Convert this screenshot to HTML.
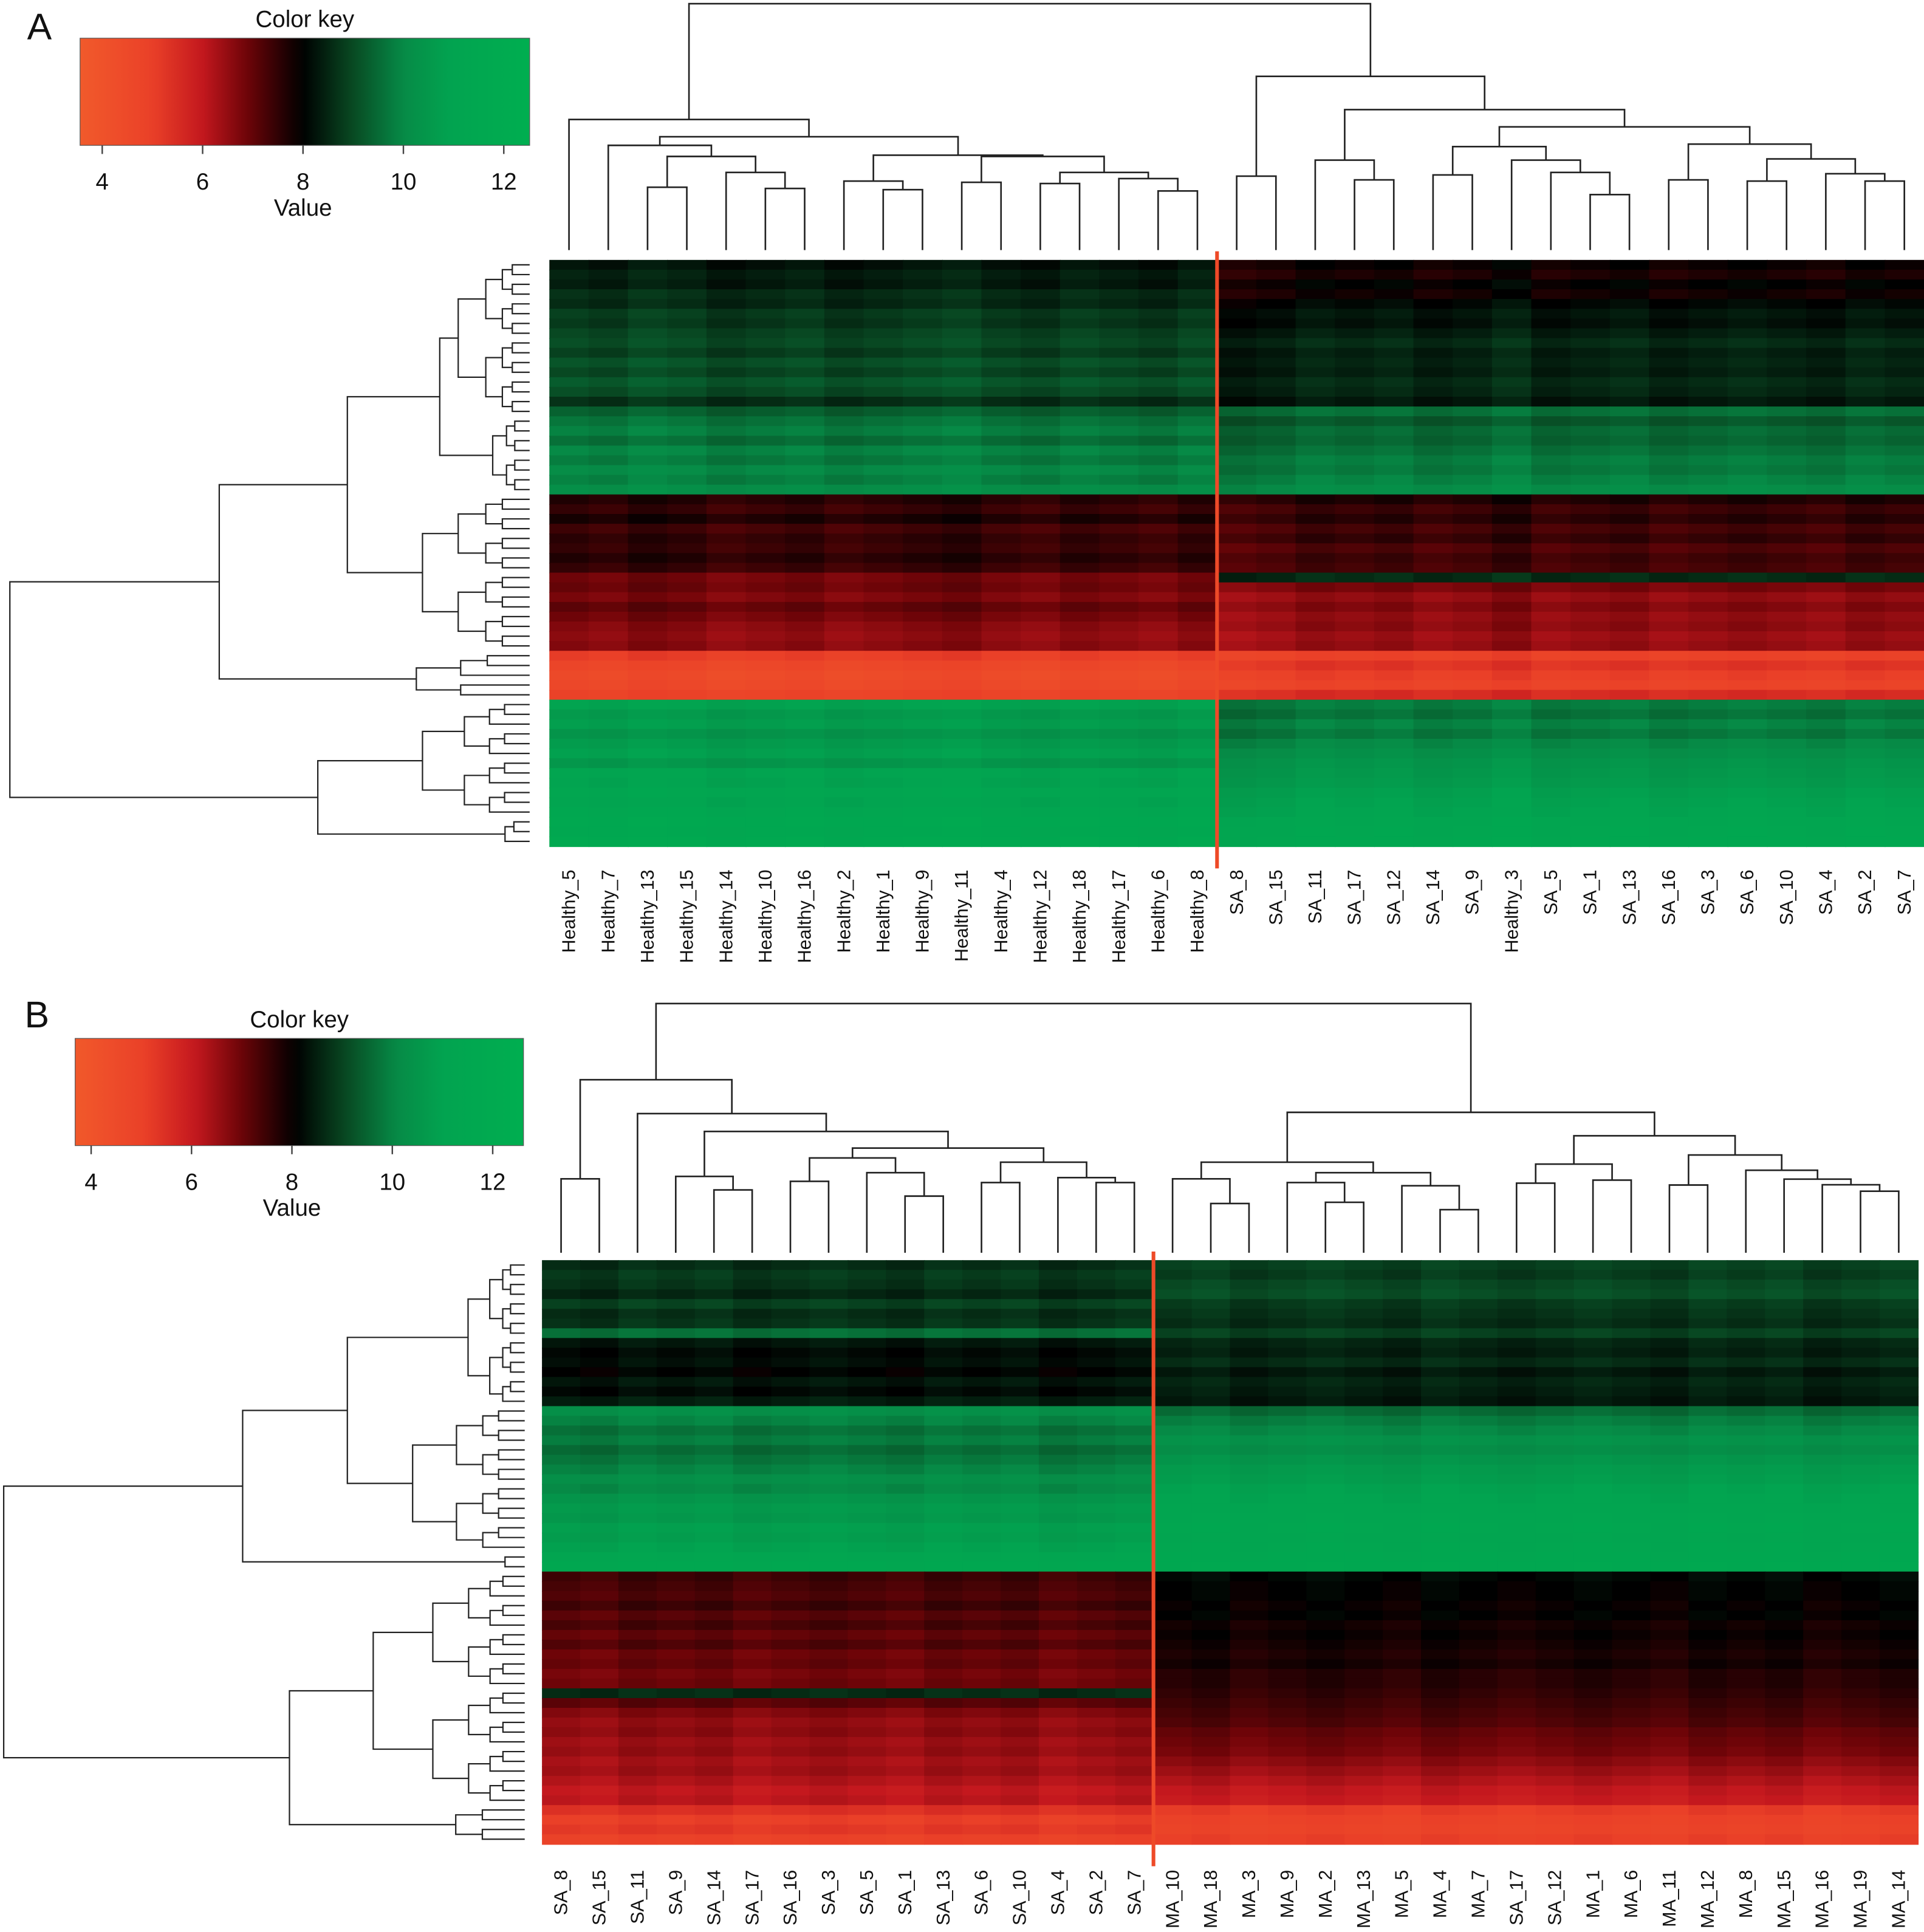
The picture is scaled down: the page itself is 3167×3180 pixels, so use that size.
<!DOCTYPE html>
<html><head><meta charset="utf-8"><style>
html,body{margin:0;padding:0;background:#fff;}
svg{display:block;font-family:"Liberation Sans",Arial,sans-serif;}
</style></head><body>
<svg id="fig" width="3167" height="3180" viewBox="0 0 1562 1568.4" preserveAspectRatio="none" xmlns="http://www.w3.org/2000/svg">
<g id="root"></g>
</svg>
<script>
// ---------- data ----------
const colsA = ["Healthy_5","Healthy_7","Healthy_13","Healthy_15","Healthy_14","Healthy_10","Healthy_16","Healthy_2","Healthy_1","Healthy_9","Healthy_11","Healthy_4","Healthy_12","Healthy_18","Healthy_17","Healthy_6","Healthy_8","SA_8","SA_15","SA_11","SA_17","SA_12","SA_14","SA_9","Healthy_3","SA_5","SA_1","SA_13","SA_16","SA_3","SA_6","SA_10","SA_4","SA_2","SA_7"];
const colsB = ["SA_8","SA_15","SA_11","SA_9","SA_14","SA_17","SA_16","SA_3","SA_5","SA_1","SA_13","SA_6","SA_10","SA_4","SA_2","SA_7","MA_10","MA_18","MA_3","MA_9","MA_2","MA_13","MA_5","MA_4","MA_7","SA_17","SA_12","MA_1","MA_6","MA_11","MA_12","MA_8","MA_15","MA_16","MA_19","MA_14"];
const keyTicks = [4,6,8,10,12];
// Panel A row values (left group = Healthy, right group = SA)
const rowsA_left = [8.2,8.4,8.3,8.6,8.5,8.8,8.7,8.9,9.0,8.8,9.1,8.9,9.2,9.0,8.6,9.3,
  9.6,9.8,9.5,9.9,9.7,10.0,9.8,10.1,
  7.6,7.4,7.7,7.3,7.5,7.4,7.6,7.4,
  6.8,6.9,6.7,7.0,6.8,6.6,6.5,6.6,
  5.0,4.6,4.4,4.5,4.8,
  10.9,10.5,10.7,10.3,10.6,10.8,10.4,11.0,10.9,11.2,11.0,11.3,
  11.5,11.4,11.6];
const rowsA_right = [7.9,7.7,8.0,7.8,8.1,8.3,8.2,8.4,8.6,8.4,8.5,8.4,8.6,8.5,8.3,9.6,
  9.2,9.5,9.4,9.6,9.8,9.7,9.9,10.1,
  7.7,7.4,7.6,7.3,7.5,7.2,7.4,7.3,
  8.6,6.8,6.5,6.7,6.5,6.6,6.4,6.5,
  4.9,5.3,5.0,4.8,5.5,
  9.8,9.6,9.9,9.7,10.0,10.2,10.4,10.5,10.6,10.8,10.9,11.0,
  11.2,11.3,11.4];
const colOffA = [0.1,0.0,0.2,0.1,-0.1,0.0,0.1,-0.1,0.0,0.1,0.2,0.0,-0.1,0.1,0.0,-0.1,0.1,
  -0.2,-0.1,0.1,0.0,0.1,-0.1,0.0,0.2,-0.1,0.0,0.1,-0.1,0.0,0.1,0.0,-0.1,0.1,0.0];
const splitA = 17;
// Panel B row values (left group = SA, right group = MA)
const rowsB_left = [8.6,8.8,8.7,8.5,8.9,8.6,8.7,9.6,8.3,8.1,8.2,8.0,8.3,8.1,8.4,
  10.2,9.9,9.6,9.8,9.5,9.7,9.9,10.2,10.0,10.4,10.6,10.5,10.8,10.7,10.9,
  11.2,11.4,
  7.4,7.3,7.2,7.4,7.1,7.3,7.0,7.2,6.9,7.0,6.8,6.9,8.6,7.1,6.7,6.5,6.6,6.4,6.5,6.3,6.4,6.2,6.0,6.1,
  5.4,5.0,5.2,4.9];
const rowsB_right = [8.9,8.8,9.0,9.1,8.8,8.7,8.6,8.9,8.5,8.4,8.6,8.3,8.5,8.4,8.3,
  9.5,9.8,10.0,10.3,10.1,10.4,10.6,10.7,10.9,11.0,11.1,11.2,11.3,11.2,11.3,
  11.4,11.5,
  8.1,8.0,8.0,7.9,8.0,7.8,7.9,7.8,7.7,7.8,7.6,7.6,7.5,7.4,7.3,7.2,7.0,6.9,6.8,6.6,6.4,6.2,6.0,5.9,
  5.1,4.9,4.8,5.0];
const colOffB = [0.0,-0.1,0.1,0.0,0.1,-0.1,0.0,0.1,0.0,-0.1,0.1,0.0,0.1,-0.1,0.0,0.1,
  0.0,0.1,-0.1,0.0,0.1,0.0,-0.1,0.1,0.0,-0.1,0.0,0.1,0.0,-0.1,0.1,0.0,0.1,-0.1,0.0,0.1];
const splitB = 16;

// ---------- helpers ----------
const NS="http://www.w3.org/2000/svg";
const root=document.getElementById('root');
function mk(tag,attrs,parent){const e=document.createElementNS(NS,tag);for(const k in attrs)e.setAttribute(k,attrs[k]);(parent||root).appendChild(e);return e;}
const stops=[[3.56,[241,90,43]],[5,[234,64,40]],[6,[196,24,30]],[6.9,[110,4,8]],[8,[0,0,0]],[9,[8,72,34]],[10,[6,138,70]],[11,[2,164,80]],[12.55,[0,174,80]]];
function col(v){
  if(v<=stops[0][0])return 'rgb('+stops[0][1]+')';
  for(let i=1;i<stops.length;i++){if(v<=stops[i][0]){const a=stops[i-1],b=stops[i];const t=(v-a[0])/(b[0]-a[0]);
    return 'rgb('+a[1].map((c,j)=>Math.round(c+(b[1][j]-c)*t)).join(',')+')';}}
  return 'rgb('+stops[stops.length-1][1]+')';
}
function N(a,b,h){return {c:[a,b],h:h};}
function sub(s,e,h,lim){if(s===e)return s;const m=Math.floor((s+e)/2);const hh=h+(lim-h)*0.4;return N(sub(s,m,hh,lim),sub(m+1,e,hh,lim),h);}

function drawColDend(node,pos,base,g){
  if(typeof node==='number')return {x:pos(node),y:base};
  const a=drawColDend(node.c[0],pos,base,g),b=drawColDend(node.c[1],pos,base,g);
  const p=mk('path',{d:`M${a.x},${a.y}V${node.h}H${b.x}V${b.y}`,fill:'none',stroke:'#222','stroke-width':1.3},g);
  
  
  return {x:(a.x+b.x)/2,y:node.h};
}
function drawRowDend(node,pos,base,g){
  if(typeof node==='number')return {x:base,y:pos(node)};
  const a=drawRowDend(node.c[0],pos,base,g),b=drawRowDend(node.c[1],pos,base,g);
  const p=mk('path',{d:`M${a.x},${a.y}H${node.h}V${b.y}H${b.x}`,fill:'none',stroke:'#222','stroke-width':1.1},g);
  
  
  return {x:node.h,y:(a.y+b.y)/2};
}

function colorKey(x,y,w,h,lo,hi,tickX0,tickX1,tag){
  const g=mk('g',{});
  
  
  const gid='grad'+tag;
  const defs=mk('defs',{},g);
  const lg=mk('linearGradient',{id:gid,x1:'0',x2:'1',y1:'0',y2:'0'},defs);
  for(let i=0;i<=40;i++){const v=lo+(hi-lo)*i/40;mk('stop',{offset:(i/40),'stop-color':col(v)},lg);}
  const r=mk('rect',{x:x,y:y,width:w,height:h,fill:`url(#${gid})`,stroke:'#555','stroke-width':0.6},g);
  
  
  const t=mk('text',{x:x+w/2,y:y-9,'font-size':19,'text-anchor':'middle',fill:'#111'},g);t.textContent='Color key';
  
  
  const sx=v=>tickX0+(v-keyTicks[0])*(tickX1-tickX0)/(keyTicks[keyTicks.length-1]-keyTicks[0]);
  keyTicks.forEach(v=>{
    mk('line',{x1:sx(v),x2:sx(v),y1:y+h,y2:y+h+7,stroke:'#444','stroke-width':1.2},g);
    const tt=mk('text',{x:sx(v),y:y+h+36,'font-size':19,'text-anchor':'middle',fill:'#111'},g);tt.textContent=v;
    
    
  });
  const vl=mk('text',{x:sx(8),y:y+h+57,'font-size':19,'text-anchor':'middle',fill:'#111'},g);vl.textContent='Value';
  
  
}

function panel(opt){
  const g=mk('g',{});
  
  
  const nC=opt.cols.length,nR=opt.left.length;
  const cw=(opt.x1-opt.x0)/nC,rh=(opt.y1-opt.y0)/nR;
  const cx=i=>opt.x0+cw*(i+0.5), ry=r=>opt.y0+rh*(r+0.5);
  const hm=mk('g',{},g);
  
  
  for(let r=0;r<nR;r++)for(let c=0;c<nC;c++){
    const v=(c<opt.split?opt.left[r]:opt.right[r])+opt.off[c];
    const cell=mk('rect',{x:opt.x0+cw*c,y:opt.y0+rh*r,width:cw+0.6,height:rh+0.6,fill:col(v)},hm);
    
    
  }
  const rl=mk('line',{x1:opt.x0+cw*opt.split,x2:opt.x0+cw*opt.split,y1:opt.y0-7,y2:opt.y1+18,stroke:'#ee4a28','stroke-width':3},g);
  
  
  opt.cols.forEach((n,i)=>{
    const x=cx(i)+5,y=opt.labY;
    const t=mk('text',{x:x,y:y,'font-size':15,'text-anchor':'end',fill:'#111',transform:`rotate(-90 ${x} ${y})`},g);
    t.textContent=n;
    
    
  });
  const cd=mk('g',{},g);
  
  
  drawColDend(opt.colTree,cx,opt.colBase,cd);
  const rd=mk('g',{},g);
  
  
  drawRowDend(opt.rowTree,ry,opt.rowBase,rd);
  const L=mk('text',{x:opt.lx,y:opt.ly,'font-size':30,fill:'#111'},g);L.textContent=opt.tag;
  
  
}

// ---------- trees ----------
const nA23=N(2,3,152),nA56=N(5,6,153),nA456=N(4,nA56,140),nA26=N(nA23,nA456,127),nA16=N(1,nA26,118);
const nA89=N(8,9,154),nA79=N(7,nA89,147),nA1011=N(10,11,148),nA1213=N(12,13,149),nA1516=N(15,16,155),nA1416=N(14,nA1516,145);
const nA1216=N(nA1213,nA1416,140),nA1016=N(nA1011,nA1216,127),nA716=N(nA79,nA1016,126),nA116=N(nA16,nA716,111),LA=N(0,nA116,97);
const nA1718=N(17,18,143),nA2021=N(20,21,146),nA1921=N(19,nA2021,130),nA2223=N(22,23,142),nA2627=N(26,27,158),nA2527=N(25,nA2627,140);
const nA2427=N(24,nA2527,130),nA2227=N(nA2223,nA2427,119),nA2829=N(28,29,146),nA3031=N(30,31,147),nA3334=N(33,34,147),nA3234=N(32,nA3334,141);
const nA3034=N(nA3031,nA3234,129),nA2834=N(nA2829,nA3034,117),nA2234=N(nA2227,nA2834,103),nA1934=N(nA1921,nA2234,89),RA=N(nA1718,nA1934,62);
const colTreeA=N(LA,RA,3);
const limA=428;
const rowTreeA=N(N(N(N(sub(0,15,372,limA),sub(16,23,400,limA),357),N(sub(24,31,372,limA),sub(32,39,372,limA),343),282),sub(40,44,338,limA),178),
  N(sub(45,56,343,limA),sub(57,59,410,limA),258),8);
const nB01=N(0,1,957),nB45=N(4,5,966),nB35=N(3,nB45,955),nB67=N(6,7,959),nB910=N(9,10,971),nB810=N(8,nB910,952),nB610=N(nB67,nB810,940);
const nB1112=N(11,12,960),nB1415=N(14,15,960),nB1315=N(13,nB1415,956),nB1115=N(nB1112,nB1315,943.5),nB615=N(nB610,nB1115,932);
const nB315=N(nB35,nB615,918.5),nB215=N(2,nB315,904),LB=N(nB01,nB215,876.5);
const nB1718=N(17,18,977),nB1618=N(16,nB1718,957),nB2021=N(20,21,976),nB1921=N(19,nB2021,960),nB2324=N(23,24,982),nB2224=N(22,nB2324,962.6);
const nB1924=N(nB1921,nB2224,952),nB1624=N(nB1618,nB1924,943.5);
const nB2526=N(25,26,960.5),nB2728=N(27,28,958),nB2528=N(nB2526,nB2728,945),nB2930=N(29,30,962),nB3435=N(34,35,967),nB3335=N(33,nB3435,961.8);
const nB3235=N(32,nB3335,957.2),nB3135=N(31,nB3235,950),nB2935=N(nB2930,nB3135,937.6),nB2535=N(nB2528,nB2935,922),RB=N(nB1624,nB2535,903);
const colTreeB=N(LB,RB,814.7);
const limB=424;
const rowTreeB=N(N(N(sub(0,14,380,limB),sub(15,29,335,limB),282),sub(30,31,410,limB),197),
  N(sub(32,55,303,limB),sub(56,59,370,limB),235),3);

// ---------- draw ----------
colorKey(65,31,365,87,3.56,12.55,83,409,'A');
colorKey(61,843,364,87,3.6,12.55,74,400,'B');
panel({tag:'A',cols:colsA,left:rowsA_left,right:rowsA_right,off:colOffA,split:splitA,x0:446,x1:1562,y0:211,y1:687,labY:706,colTree:colTreeA,colBase:203,rowTree:rowTreeA,rowBase:limA+2,lx:22,ly:32});
panel({tag:'B',cols:colsB,left:rowsB_left,right:rowsB_right,off:colOffB,split:splitB,x0:440,x1:1557,y0:1023,y1:1497,labY:1518,colTree:colTreeB,colBase:1017,rowTree:rowTreeB,rowBase:limB+2,lx:20,ly:834});
</script>
</body></html>
